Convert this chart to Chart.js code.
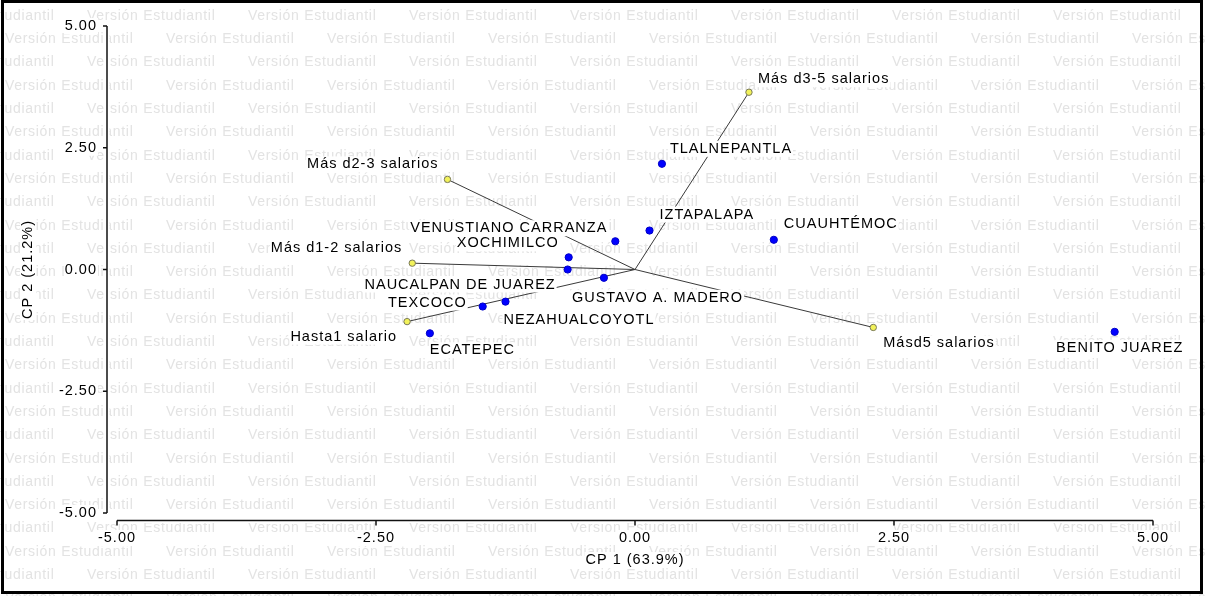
<!DOCTYPE html>
<html>
<head>
<meta charset="utf-8">
<script src="https://cdn.jsdelivr.net/npm/chart.js@4.4.1/dist/chart.umd.min.js"></script>
<style>
  html, body { margin: 0; padding: 0; background: #fff; }
  canvas { display: block; }
</style>
</head>
<body>
<canvas id="biplot" width="1205" height="596"></canvas>
<script>
// Observations (municipios / alcaldías) on the first two principal components
const departments = ["TLALNEPANTLA", "IZTAPALAPA", "CUAUHTÉMOC", "VENUSTIANO CARRANZA", "XOCHIMILCO",
  "NAUCALPAN DE JUAREZ", "GUSTAVO A. MADERO", "NEZAHUALCOYOTL", "TEXCOCO", "ECATEPEC", "BENITO JUAREZ"];
const deptCP1 = [0.26, 0.14, 1.34, -0.19, -0.64, -0.65, -0.30, -1.25, -1.47, -1.98, 4.63];
const deptCP2 = [2.17, 0.80, 0.61, 0.58, 0.25, 0.00, -0.17, -0.66, -0.76, -1.31, -1.28];

// Income variables (vectors drawn from the origin)
const incomeVars = ["Más d3-5 salarios", "Más d2-3 salarios", "Más d1-2 salarios", "Hasta1 salario", "Másd5 salarios"];
const varCP1 = [1.10, -1.81, -2.15, -2.20, 2.30];
const varCP2 = [3.64, 1.85, 0.13, -1.07, -1.19];

// Axes
const xTickValues = [-5, -2.5, 0, 2.5, 5];
const yTickValues = [-5, -2.5, 0, 2.5, 5];
const xTitle = "CP 1 (63.9%)";
const yTitle = "CP 2 (21.2%)";
const watermarkText = "Versión Estudiantil";

// Label placement: anchor side, pixel offset from the marker
const labelPlacement = {
  "TLALNEPANTLA": ["left", 8, -15],
  "IZTAPALAPA": ["left", 10, -16],
  "CUAUHTÉMOC": ["left", 10, -16],
  "VENUSTIANO CARRANZA": ["right", -8, -13],
  "XOCHIMILCO": ["right", -10, -14],
  "NAUCALPAN DE JUAREZ": ["right", -12, 15],
  "GUSTAVO A. MADERO": ["left", -32, 20],
  "NEZAHUALCOYOTL": ["left", -2, 18],
  "TEXCOCO": ["right", -16, -4],
  "ECATEPEC": ["left", 0, 17],
  "BENITO JUAREZ": ["center", 5, 16],
  "Más d3-5 salarios": ["left", 9, -13],
  "Más d2-3 salarios": ["right", -9, -15],
  "Más d1-2 salarios": ["right", -10, -15],
  "Hasta1 salario": ["right", -10, 15],
  "Másd5 salarios": ["left", 10, 16]
};

const FONT = '14.5px "Liberation Sans", Arial, sans-serif';

function boxedText(ctx, text, x, y, align) {
  const w = ctx.measureText(text).width;
  const left = align === 'left' ? x : (align === 'right' ? x - w : x - w / 2);
  ctx.fillStyle = '#fff';
  ctx.fillRect(left - 1, y - 8, w + 2, 16);
  ctx.fillStyle = '#000';
  ctx.textAlign = 'left';
  ctx.textBaseline = 'middle';
  ctx.fillText(text, left, y);
}

const backgroundPlugin = {
  id: 'studentWatermark',
  beforeDraw(chart) {
    const ctx = chart.ctx;
    ctx.save();
    ctx.fillStyle = '#fff';
    ctx.fillRect(0, 0, chart.width, chart.height);
    ctx.font = '14px "Liberation Sans", Arial, sans-serif';
    ctx.letterSpacing = '0.7px';
    ctx.fillStyle = '#e3e3e3';
    ctx.textAlign = 'left';
    ctx.textBaseline = 'middle';
    const period = 161;
    for (let r = 0; r < 26; r++) {
      const y = 16 + r * 23.3;
      const start = (r % 2 === 0 ? 87 : 5) - period;
      for (let x = start; x < chart.width; x += period) {
        ctx.fillText(watermarkText, x, y);
      }
    }
    ctx.restore();
  }
};

const annotatePlugin = {
  id: 'biplotAxesAndLabels',
  afterDatasetsDraw(chart) {
    const ctx = chart.ctx;
    const xs = chart.scales.x, ys = chart.scales.y;
    ctx.save();
    ctx.font = FONT;
    ctx.letterSpacing = '1px';

    // Y axis (detached to the left of the plot)
    const yAxisX = 107;
    const yTop = ys.getPixelForValue(5), yBot = ys.getPixelForValue(-5);
    ctx.strokeStyle = '#fff';
    ctx.lineWidth = 5;
    ctx.beginPath(); ctx.moveTo(yAxisX, yTop); ctx.lineTo(yAxisX, yBot); ctx.stroke();
    ctx.strokeStyle = '#111';
    ctx.lineWidth = 1.5;
    ctx.beginPath(); ctx.moveTo(yAxisX, yTop); ctx.lineTo(yAxisX, yBot); ctx.stroke();
    yTickValues.forEach(v => {
      const py = ys.getPixelForValue(v);
      ctx.strokeStyle = '#111'; ctx.lineWidth = 1.5;
      ctx.beginPath(); ctx.moveTo(yAxisX - 4, py); ctx.lineTo(yAxisX, py); ctx.stroke();
      boxedText(ctx, v.toFixed(2), 97, py, 'right');
    });

    // X axis (detached below the plot)
    const xAxisY = 520.5;
    const xL = xs.getPixelForValue(-5), xR = xs.getPixelForValue(5);
    ctx.strokeStyle = '#fff';
    ctx.lineWidth = 5;
    ctx.beginPath(); ctx.moveTo(xL, xAxisY); ctx.lineTo(xR, xAxisY); ctx.stroke();
    ctx.strokeStyle = '#111';
    ctx.lineWidth = 1.5;
    ctx.beginPath(); ctx.moveTo(xL, xAxisY); ctx.lineTo(xR, xAxisY); ctx.stroke();
    xTickValues.forEach(v => {
      const px = xs.getPixelForValue(v);
      ctx.strokeStyle = '#111'; ctx.lineWidth = 1.5;
      ctx.beginPath(); ctx.moveTo(px, xAxisY); ctx.lineTo(px, xAxisY + 5); ctx.stroke();
      boxedText(ctx, v.toFixed(2), px, 538, 'center');
    });

    // Axis titles
    boxedText(ctx, xTitle, (xL + xR) / 2, 560, 'center');
    ctx.save();
    ctx.translate(28, (yTop + yBot) / 2);
    ctx.rotate(-Math.PI / 2);
    boxedText(ctx, yTitle, 0, 0, 'center');
    ctx.restore();

    // Point labels
    const drawLabels = (names, cx, cy) => {
      names.forEach((name, i) => {
        const [align, dx, dy] = labelPlacement[name];
        const px = xs.getPixelForValue(cx[i]);
        const py = ys.getPixelForValue(cy[i]);
        boxedText(ctx, name, px + dx, py + dy, align);
      });
    };
    drawLabels(departments, deptCP1, deptCP2);
    drawLabels(incomeVars, varCP1, varCP2);

    // Outer frame
    ctx.strokeStyle = '#000';
    ctx.lineWidth = 3;
    ctx.strokeRect(2.5, 1.5, 1199, 591);
    ctx.restore();
  }
};

const vectorDatasets = incomeVars.map((name, i) => ({
  label: name,
  data: [{ x: 0, y: 0 }, { x: varCP1[i], y: varCP2[i] }],
  showLine: true,
  borderColor: '#3a3a3a',
  borderWidth: 1,
  pointRadius: 0,
  order: 3
}));

new Chart(document.getElementById('biplot'), {
  type: 'scatter',
  data: {
    datasets: [
      ...vectorDatasets,
      {
        label: 'Municipios',
        data: departments.map((n, i) => ({ x: deptCP1[i], y: deptCP2[i] })),
        pointRadius: 3.6,
        pointBackgroundColor: '#0000ff',
        pointBorderColor: '#0000c8',
        pointBorderWidth: 1,
        order: 2
      },
      {
        label: 'Variables',
        data: incomeVars.map((n, i) => ({ x: varCP1[i], y: varCP2[i] })),
        pointRadius: 3.2,
        pointBackgroundColor: '#f2f25a',
        pointBorderColor: '#7a7a5a',
        pointBorderWidth: 1,
        order: 1
      }
    ]
  },
  options: {
    responsive: false,
    animation: false,
    devicePixelRatio: 1,
    layout: { padding: { left: 117, right: 52, top: 26, bottom: 83 } },
    scales: {
      x: { type: 'linear', min: -5, max: 5, display: false },
      y: { type: 'linear', min: -5, max: 5, display: false }
    },
    plugins: {
      legend: { display: false },
      tooltip: { enabled: false }
    }
  },
  plugins: [backgroundPlugin, annotatePlugin]
});
</script>
</body>
</html>
